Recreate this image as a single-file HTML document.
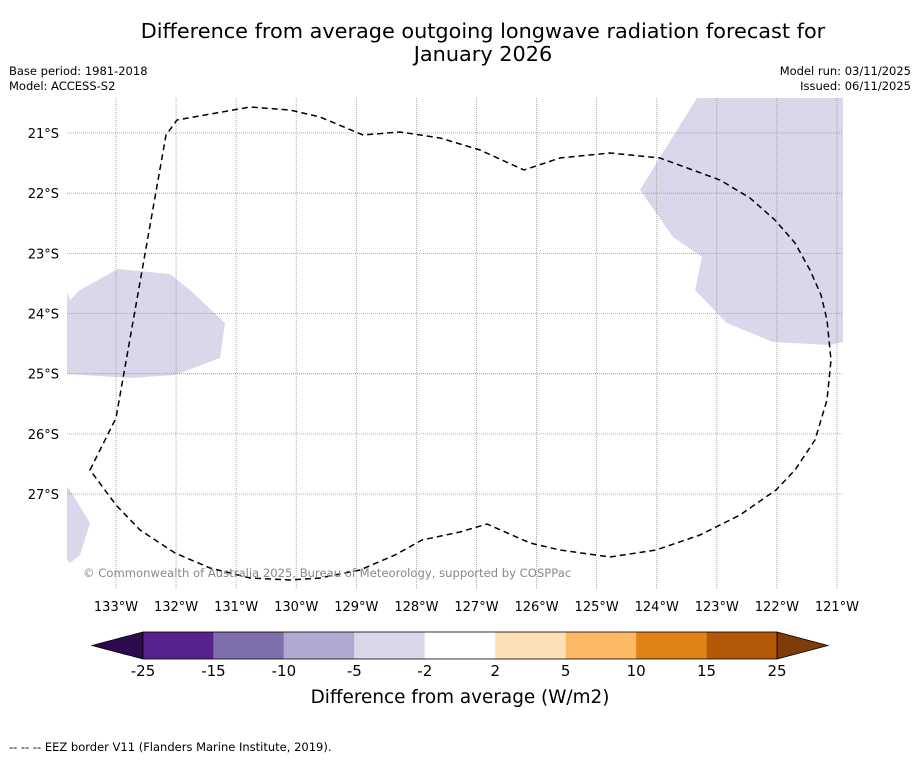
<!DOCTYPE html>
<html><head><meta charset="utf-8"><style>
body{margin:0;background:#fff;font-family:"Liberation Sans","DejaVu Sans",sans-serif}
svg text{font-family:"DejaVu Sans","Liberation Sans",sans-serif}
</style></head><body>
<svg width="919" height="758" viewBox="0 0 919 758">
<text x="483" y="38" text-anchor="middle" font-size="20.8">Difference from average outgoing longwave radiation forecast for</text>
<text x="483" y="61" text-anchor="middle" font-size="20.8">January 2026</text>
<text x="9" y="75" font-size="11.5">Base period: 1981-2018</text>
<text x="9" y="90" font-size="11.5">Model: ACCESS-S2</text>
<text x="911" y="75" font-size="11.5" text-anchor="end">Model run: 03/11/2025</text>
<text x="911" y="90" font-size="11.5" text-anchor="end">Issued: 06/11/2025</text>
<g id="map">
<polygon fill="#d8d8ea" points="67,292 70,300 80,290 118,269 170,274 190,290 225,323 220,358 175,375 130,378 67,374"/>
<polygon fill="#d8d8ea" points="67,487 70,490 90,523 80,555 70,563 67,560"/>
<polygon fill="#d8d8ea" points="697,98 843,98 843,342 830,345 773,342 727,323 717,313 695,290 702,257 673,237 640,190 677,130"/>
<g id="grid"></g>
<path fill="none" stroke="#000" stroke-width="1.5" stroke-dasharray="6,4" d="M90,470 L116,418 L166,135 L177,120 L250,107 L290,110 L320,117 L363,135 L400,132 L440,138 L480,150 L524,170 L560,158 L610,153 L660,158 L720,180 L750,198 L775,220 L795,243 L810,270 L821,295 L827,320 L831,360 L827,400 L815,440 L795,470 L776,490 L740,515 L700,535 L656,550 L610,557 L560,550 L530,543 L487,524 L460,532 L422,540 L395,555 L360,570 L320,578 L290,580 L250,578 L210,568 L175,553 L140,530 L116,505 Z"/>
<text x="83" y="577" font-size="11.6" fill="#888">© Commonwealth of Australia 2025, Bureau of Meteorology, supported by COSPPac</text>
</g>
<g id="axes"></g>
<g id="cbar"></g>
<text x="460" y="703" text-anchor="middle" font-size="18.4">Difference from average (W/m2)</text>
<text x="9" y="751" font-size="11.5">--  --  -- EEZ border V11 (Flanders Marine Institute, 2019).</text>
</svg>
<script>
const lonTicks=[133,132,131,130,129,128,127,126,125,124,123,122,121];
const latTicks=[21,22,23,24,25,26,27];
const cbTicks=[-25,-15,-10,-5,-2,2,5,10,15,25];
const cbColors=["#57228c","#7f70ac","#b1a9d1","#d8d8ea","#ffffff","#fee0b6","#fdb863","#e08214","#b35806"];
const NS="http://www.w3.org/2000/svg";
const xOf=l=>116+(133-l)*60.08;
const yOf=l=>133+(l-21)*60.17;
function mk(t,a,p){const e=document.createElementNS(NS,t);for(const k in a)e.setAttribute(k,a[k]);p.appendChild(e);return e;}
const g=document.getElementById('grid'),ax=document.getElementById('axes'),cb=document.getElementById('cbar');
lonTicks.forEach(l=>{const x=xOf(l);
 const ln=mk('line',{x1:x,x2:x,y1:98,y2:590,stroke:'#999','stroke-width':0.8,'stroke-dasharray':'1,1'},g);
 
 
 const t=mk('text',{x:x,y:611,'text-anchor':'middle','font-size':13},ax);t.textContent=l+'°W';
 
 });
latTicks.forEach(l=>{const y=yOf(l);
 const ln=mk('line',{x1:67,x2:843,y1:y,y2:y,stroke:'#999','stroke-width':0.8,'stroke-dasharray':'1,1'},g);
 
 
 const t=mk('text',{x:59,y:y+5,'text-anchor':'end','font-size':13},ax);t.textContent=l+'°S';
 
 });
const cx0=143,cx1=777,cy=632,ch=27;
const cbX=i=>cx0+i*(cx1-cx0)/(cbTicks.length-1);
const lt=mk('polygon',{points:`${cx0},${cy} 92,${cy+ch/2} ${cx0},${cy+ch}`,fill:'#2d0a4e',stroke:'#000','stroke-width':0.8},cb);


const rt=mk('polygon',{points:`${cx1},${cy} 828,${cy+ch/2} ${cx1},${cy+ch}`,fill:'#7f3b08',stroke:'#000','stroke-width':0.8},cb);


cbColors.forEach((c,i)=>{const r=mk('rect',{x:cbX(i),y:cy,width:cbX(i+1)-cbX(i),height:ch,fill:c},cb);
 
 });
mk('rect',{x:cx0,y:cy,width:cx1-cx0,height:ch,fill:'none',stroke:'#000','stroke-width':0.8},cb);
cbTicks.forEach((v,i)=>{const t=mk('text',{x:cbX(i),y:676,'text-anchor':'middle','font-size':15},cb);t.textContent=v;
 
 });
</script>
</body></html>
